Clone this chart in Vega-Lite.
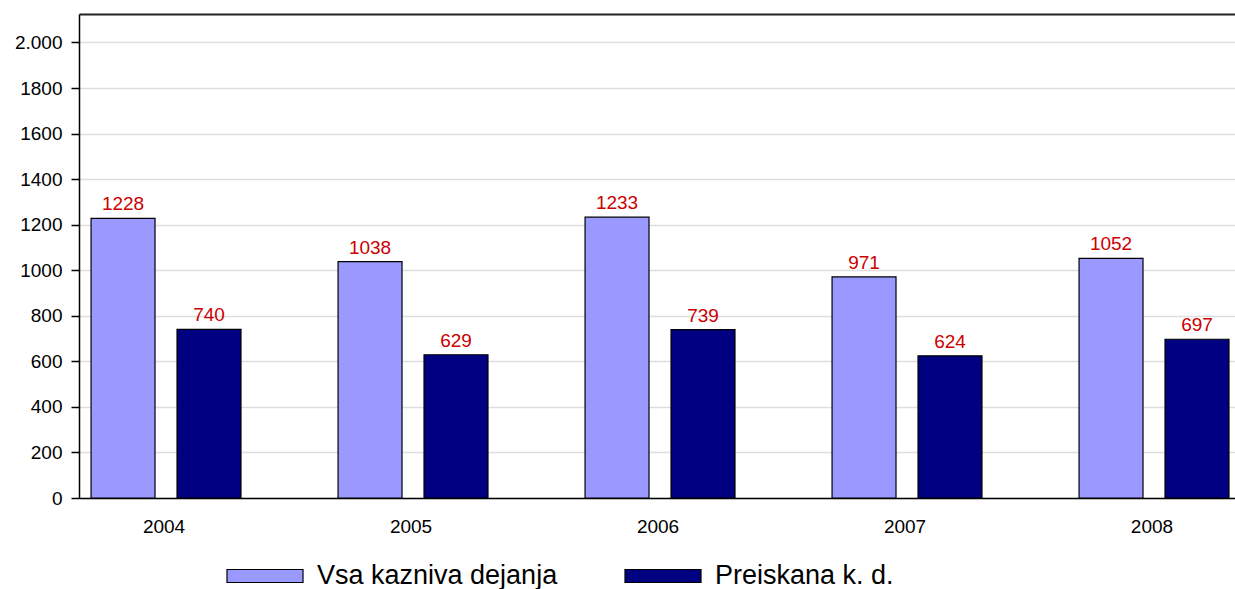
{
  "$schema": "https://vega.github.io/schema/vega-lite/v6.json",
  "width": 1156,
  "height": 484,
  "autosize": {"type": "none"},
  "padding": {"left": 79, "top": 14, "right": 0, "bottom": 91},
  "background": "white",
  "config": {
    "font": "Liberation Sans",
    "view": {"stroke": null},
    "legend": {"padding": 0}
  },
  "data": {
    "values": [
      {"leto": "2004", "serija": "Vsa kazniva dejanja", "vrednost": 1228},
      {"leto": "2004", "serija": "Preiskana k. d.", "vrednost": 740},
      {"leto": "2005", "serija": "Vsa kazniva dejanja", "vrednost": 1038},
      {"leto": "2005", "serija": "Preiskana k. d.", "vrednost": 629},
      {"leto": "2006", "serija": "Vsa kazniva dejanja", "vrednost": 1233},
      {"leto": "2006", "serija": "Preiskana k. d.", "vrednost": 739},
      {"leto": "2007", "serija": "Vsa kazniva dejanja", "vrednost": 971},
      {"leto": "2007", "serija": "Preiskana k. d.", "vrednost": 624},
      {"leto": "2008", "serija": "Vsa kazniva dejanja", "vrednost": 1052},
      {"leto": "2008", "serija": "Preiskana k. d.", "vrednost": 697}
    ]
  },
  "resolve": {"axis": {"x": "independent"}},
  "layer": [
    {
      "mark": {"type": "bar", "stroke": "#000000", "strokeWidth": 1.2},
      "encoding": {
        "x": {
          "field": "leto", "type": "nominal",
          "scale": {"paddingInner": 0.393, "paddingOuter": 0.0366, "align": 0.667},
          "axis": {
            "orient": "bottom", "title": null, "ticks": false, "labelAngle": 0,
            "labelFontSize": 19, "labelColor": "#000000", "labelPadding": 19, "labelOffset": -2,
            "domainColor": "#000000", "domainWidth": 1.5, "grid": false
          }
        },
        "xOffset": {
          "field": "serija", "type": "nominal",
          "sort": ["Vsa kazniva dejanja", "Preiskana k. d."],
          "scale": {"paddingInner": 0.256, "paddingOuter": 0}
        },
        "y": {
          "field": "vrednost", "type": "quantitative",
          "scale": {"domain": [0, 2125], "nice": false},
          "axis": {
            "title": null,
            "values": [0, 200, 400, 600, 800, 1000, 1200, 1400, 1600, 1800, 2000],
            "labelExpr": "datum.value == 2000 ? '2.000' : format(datum.value, 'd')",
            "labelFontSize": 19, "labelColor": "#000000", "labelPadding": 9,
            "tickSize": 8, "tickColor": "#000000", "tickWidth": 1.5,
            "domainColor": "#000000", "domainWidth": 1.5,
            "grid": true, "gridColor": "#dedede", "gridWidth": 1.5
          }
        },
        "color": {
          "field": "serija", "type": "nominal",
          "scale": {"domain": ["Vsa kazniva dejanja", "Preiskana k. d."], "range": ["#9999ff", "#000080"]},
          "legend": {
            "title": null, "orient": "none", "direction": "horizontal",
            "legendX": 147, "legendY": 523,
            "symbolType": "M-1,-0.171L1,-0.171L1,0.171L-1,0.171Z",
            "symbolSize": 5776, "symbolStrokeColor": "#000000", "symbolStrokeWidth": 1.2,
            "symbolOpacity": 1,
            "labelFontSize": 27, "labelColor": "#000000", "labelOffset": 13,
            "columnPadding": 64, "labelLimit": 400
          }
        }
      }
    },
    {
      "mark": {"type": "text", "color": "#cc0000", "fontSize": 19, "baseline": "alphabetic", "dy": -8},
      "encoding": {
        "x": {
          "field": "leto", "type": "nominal",
          "scale": {"paddingInner": 0.393, "paddingOuter": 0.0366, "align": 0.667},
          "axis": {
            "orient": "top", "title": null, "ticks": false, "labels": false, "grid": false,
            "domainColor": "#222222", "domainWidth": 2
          }
        },
        "xOffset": {
          "field": "serija", "type": "nominal",
          "sort": ["Vsa kazniva dejanja", "Preiskana k. d."],
          "scale": {"paddingInner": 0.256, "paddingOuter": 0}
        },
        "y": {"field": "vrednost", "type": "quantitative"},
        "text": {"field": "vrednost", "type": "quantitative", "format": "d"}
      }
    }
  ]
}
